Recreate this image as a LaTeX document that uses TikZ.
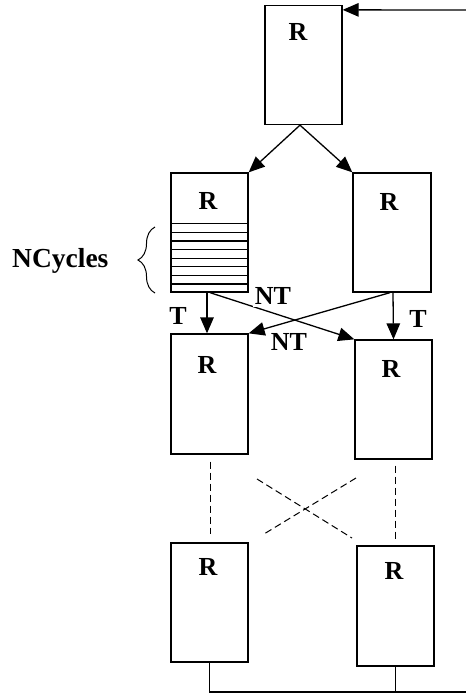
\documentclass[tikz,border=0pt]{standalone}
\usepackage{fontspec}
\setmainfont{Liberation Serif}
\usetikzlibrary{arrows.meta,calc,decorations.pathreplacing}
\begin{document}
\begin{tikzpicture}[x=1pt,y=-1pt,
  box/.style={draw,line width=1.3pt,minimum width=77pt,minimum height=119pt,inner sep=0pt},
  lbl/.style={inner sep=0pt,font=\fontsize{26}{30}\selectfont\bfseries},
  conn/.style={line width=1.3pt},
  arr/.style={line width=1.3pt,-{Triangle[length=16pt,width=13.5pt]}},
  dsh/.style={line width=1pt,dash pattern=on 7pt off 4pt}]
\useasboundingbox (0,0) rectangle (466,694);
% boxes
\node[box] (Top) at (303.5,65) {};
\node[box] (ML) at (209.5,232.5) {};
\node[box,minimum width=78pt] (MR) at (392,232.5) {};
\node[box,minimum height=120pt] (LL) at (209.5,394) {};
\node[box] (LR) at (393.5,399.5) {};
\node[box] (BL) at (209.5,602.5) {};
\node[box,minimum height=120pt] (BR) at (395.5,606) {};
% labels R
\node[lbl] (rTop) at (298,32) {R};
\node[lbl] (rML) at (208,201) {R};
\node[lbl] (rMR) at (389,202) {R};
\node[lbl] (rLL) at (207,365) {R};
\node[lbl] (rLR) at (391,369) {R};
\node[lbl] (rBL) at (208,567) {R};
\node[lbl] (rBR) at (394,571) {R};
% stripes
\foreach \i in {1,...,8}
  \draw[line width=1.3pt] ($(ML.south west)+(0,{-\i*8.625})$) -- ($(ML.south east)+(0,{-\i*8.625})$);
% brace and NCycles
\draw[line width=1pt,decorate,decoration={brace,amplitude=17pt}] (155,293) -- (155,227);
\node[lbl,font=\fontsize{27.5}{32}\selectfont\bfseries,anchor=base west] (nc) at (12,267) {NCycles};
% feedback
\coordinate (fbTop) at (466,10);
\coordinate (fbBot) at (466,692);
\draw[arr] (fbTop) -- ([yshift=-5pt]Top.north east);
\draw[conn] (BL.south) -- (BL.south |- fbBot) -- (fbBot);
\draw[conn] (BR.south) -- (BR.south |- fbBot);
% top to middle
\draw[arr] ([xshift=-3.5pt]Top.south) -- (ML.north east);
\draw[arr] ([xshift=-3.5pt]Top.south) -- (MR.north west);
% middle to lower
\draw[arr] ([xshift=-2.5pt]ML.south) -- ([xshift=-2.5pt]LL.north);
\draw[arr] ([xshift=0.5pt]ML.south) -- (LR.north west);
\draw[arr] ([xshift=-2pt]MR.south) -- (LL.north east);
\draw[arr] ([xshift=1pt]MR.south) -- (LR.north);
% branch labels
\node[lbl] (t1) at (178,316) {T};
\node[lbl] (t2) at (418,319) {T};
\node[lbl,fill=white,inner sep=2pt] (nt1) at (273,296) {NT};
\node[lbl] (nt2) at (289,342) {NT};
% dashed continuation
\draw[dsh] ([xshift=0.5pt,yshift=-7pt]LL.south) -- ([xshift=0.5pt,yshift=8pt]BL.north);
\draw[dsh] ([xshift=1.5pt,yshift=-6pt]LR.south) -- ([xshift=-0.5pt,yshift=6pt]BR.north);
\coordinate (x1a) at (257,479);
\coordinate (x1b) at (352,538);
\coordinate (x2a) at (356,478);
\coordinate (x2b) at (264,534);
\draw[dsh] (x1a) -- (x1b);
\draw[dsh] (x2a) -- (x2b);
\end{tikzpicture}
\end{document}
